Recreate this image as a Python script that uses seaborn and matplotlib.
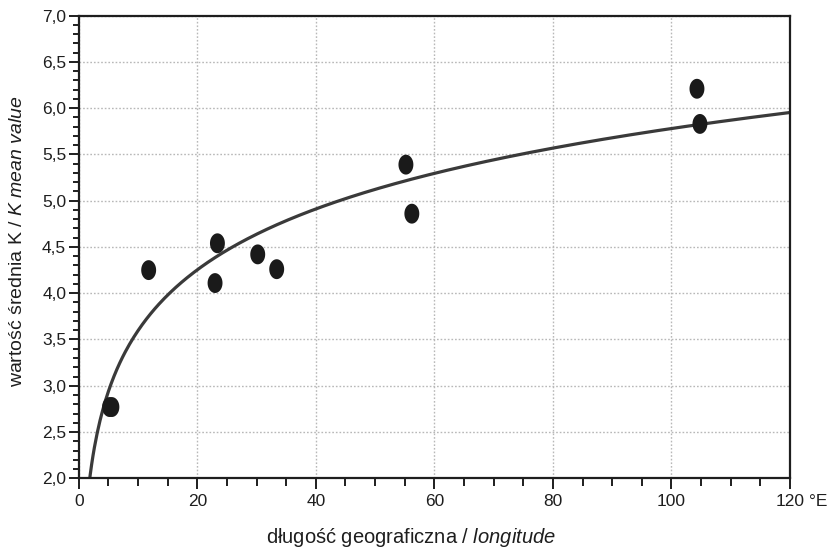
import numpy as np
import pandas as pd
import matplotlib
matplotlib.use("Agg")
import matplotlib.pyplot as plt
from matplotlib.path import Path
from matplotlib.ticker import MultipleLocator, FixedLocator, FixedFormatter
import seaborn as sns

# Station longitudes (°E) and mean K values
longitude = [5.2, 5.6, 11.8, 23.4, 23.0, 30.2, 33.4, 55.2, 56.2, 104.3, 104.8]
k_mean = [2.77, 2.77, 4.25, 4.54, 4.11, 4.42, 4.26, 5.39, 4.86, 6.21, 5.83]

# Logarithmic trend line  y = a + b * ln(x)
trend_a = 1.41
trend_b = 0.949

x_ticks = [0, 20, 40, 60, 80, 100, 120]
x_tick_labels = ["0", "20", "40", "60", "80", "100", "120"]
y_ticks = [2.0, 2.5, 3.0, 3.5, 4.0, 4.5, 5.0, 5.5, 6.0, 6.5, 7.0]
y_tick_labels = ["2,0", "2,5", "3,0", "3,5", "4,0", "4,5", "5,0", "5,5", "6,0", "6,5", "7,0"]

sns.set_theme(style="white")
plt.rcParams["font.family"] = ["Liberation Sans", "DejaVu Sans"]
plt.rcParams["mathtext.fontset"] = "custom"
plt.rcParams["mathtext.rm"] = "Liberation Sans"
plt.rcParams["mathtext.it"] = "Liberation Sans:italic"

ink = "#1e1e1e"
fig = plt.figure(figsize=(8.33, 5.5), dpi=100)
ax = fig.add_axes([0.0945, 0.1304, 0.8539, 0.8411])

df = pd.DataFrame({"lon": longitude, "k": k_mean})
xs = np.linspace(1.7, 120, 500)
trend = pd.DataFrame({"lon": xs, "k": trend_a + trend_b * np.log(xs)})

sns.lineplot(data=trend, x="lon", y="k", ax=ax, color="#3a3a3a", lw=2.3,
             sort=False, estimator=None, zorder=2)

# slightly tall elliptical marker
t = np.linspace(0, 2 * np.pi, 60)
ellipse = Path(np.column_stack([0.75 * np.cos(t), np.sin(t)]), closed=True)
sns.scatterplot(data=df, x="lon", y="k", ax=ax, marker=ellipse, s=205,
                color="#1a1a1a", edgecolor="none", linewidth=0, zorder=3)

ax.set_xlim(0, 120)
ax.set_ylim(2.0, 7.0)

ax.xaxis.set_major_locator(FixedLocator(x_ticks))
ax.xaxis.set_major_formatter(FixedFormatter(x_tick_labels))
ax.yaxis.set_major_locator(FixedLocator(y_ticks))
ax.yaxis.set_major_formatter(FixedFormatter(y_tick_labels))
ax.xaxis.set_minor_locator(MultipleLocator(5))
ax.yaxis.set_minor_locator(MultipleLocator(0.1))

ax.tick_params(which="major", axis="x", direction="out", length=8, width=1.4,
               color=ink, labelsize=12.5, labelcolor=ink, pad=3, bottom=True)
ax.tick_params(which="minor", axis="x", direction="out", length=5.5, width=1.4,
               color=ink, bottom=True)
ax.tick_params(which="major", axis="y", direction="out", length=7, width=1.4,
               color=ink, labelsize=12.5, labelcolor=ink, pad=2, left=True)
ax.tick_params(which="minor", axis="y", direction="out", length=4.5, width=1.4,
               color=ink, left=True)

for side in ["left", "right", "top", "bottom"]:
    ax.spines[side].set_visible(True)
    ax.spines[side].set_color(ink)
    ax.spines[side].set_linewidth(1.6)

ax.grid(True, which="major", color="#b8b8b8", linestyle=(0, (1.2, 1.4)), linewidth=1.0)
ax.set_axisbelow(True)

# unit after the last longitude tick
ax.annotate("°E", xy=(120, 0), xycoords=("data", "axes fraction"),
            xytext=(13.5, -11.5), textcoords="offset points",
            ha="left", va="top", fontsize=12.5, color=ink)

ax.set_xlabel(r"długość geograficzna / $\mathit{longitude}$", fontsize=14.5, color=ink)
ax.set_ylabel(r"wartość średnia K / $\mathit{K\ mean\ value}$", fontsize=14, color=ink)
ax.xaxis.set_label_coords(0.467, -0.127)
ax.xaxis.label.set_va("center")
ax.yaxis.set_label_coords(-0.0867, 0.513)
ax.yaxis.label.set_va("center")

fig.savefig("out.png", dpi=100)
